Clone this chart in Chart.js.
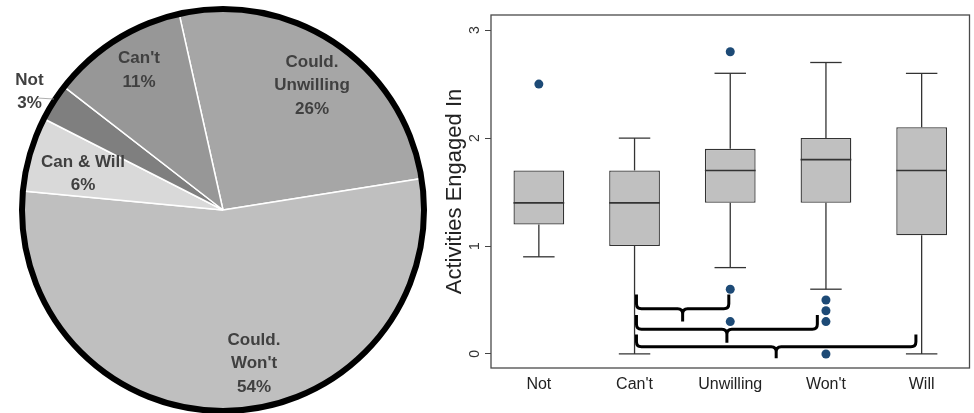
<!DOCTYPE html>
<html><head><meta charset="utf-8">
<script src="https://cdn.jsdelivr.net/npm/chart.js@4.4.1/dist/chart.umd.min.js"></script>
<style>
html,body{margin:0;padding:0;background:#fff;}
body{width:974px;height:413px;position:relative;overflow:hidden;}
#pieWrap{position:absolute;left:0;top:0;width:446px;height:413px;}
#boxWrap{position:absolute;left:436px;top:0;width:538px;height:413px;}
</style></head><body>
<div id="pieWrap"><canvas id="pie"></canvas></div>
<div id="boxWrap"><canvas id="box"></canvas></div>
<script>
// ---- Pie data ----
const pieLabels = ['Could. Unwilling', "Could. Won't", 'Can & Will', 'Not', "Can't"];
const pieValues = [26, 54, 6, 3, 11];
const pieTextLines = [['Could.', 'Unwilling', '26%'], ['Could.', "Won't", '54%'], ['Can & Will', '6%'], ['Not', '3%'], ["Can't", '11%']];

// ---- Box plot data ----
const categories = ['Not', "Can't", 'Unwilling', "Won't", 'Will'];
const whiskerLow = [0.9, 0.0, 0.8, 0.6, 0.0];
const q1 = [1.2, 1.0, 1.4, 1.4, 1.1];
const median = [1.4, 1.4, 1.7, 1.8, 1.7];
const q3 = [1.7, 1.7, 1.9, 2.0, 2.1];
const whiskerHigh = [1.7, 2.0, 2.6, 2.7, 2.6];
const outlierCategory = ['Not', 'Unwilling', 'Unwilling', 'Unwilling', "Won't", "Won't", "Won't", "Won't"];
const outlierValues = [2.5, 2.8, 0.6, 0.3, 0.5, 0.4, 0.3, 0.0];
const yTicks = [0, 1, 2, 3];

// ---- Comparison braces (category index units / axis values) ----
const braceFrom = [1.02, 1.02, 1.02];
const braceTo = [1.985, 2.91, 3.94];
const braceY = [0.42, 0.23, 0.068];
const braceTipY = [0.55, 0.36, 0.18];
const braceDipY = [0.30, 0.105, -0.04];

// ---- Styles / layout ----
const FONT = '"Liberation Sans", Arial, Helvetica, sans-serif';
const pieColors = ['#a6a6a6', '#bfbfbf', '#d9d9d9', '#7f7f7f', '#979797'];
const pieLabelPos = [[89, -148], [31, 130], [-140, -48], [-193.5, -130], [-84, -151.5]];

Chart.defaults.font.family = FONT;

const pieDecor = {
  id: 'pieDecor',
  afterDatasetsDraw(chart) {
    const arc = chart.getDatasetMeta(0).data[0];
    const {x, y, outerRadius} = arc.getProps(['x', 'y', 'outerRadius'], true);
    const ctx = chart.ctx;
    ctx.save();
    ctx.beginPath();
    ctx.arc(x, y, outerRadius, 0, Math.PI * 2);
    ctx.lineWidth = 6;
    ctx.strokeStyle = '#000';
    ctx.stroke();
    ctx.beginPath();
    ctx.moveTo(x - 186, y - 112);
    ctx.lineTo(x - 169, y - 111);
    ctx.lineWidth = 0.8;
    ctx.strokeStyle = '#9a9a9a';
    ctx.stroke();
    ctx.font = 'bold 17px ' + FONT;
    ctx.fillStyle = '#404040';
    ctx.textAlign = 'center';
    ctx.textBaseline = 'middle';
    pieTextLines.forEach((lines, i) => {
      const [dx, dy] = pieLabelPos[i];
      lines.forEach((t, j) => ctx.fillText(t, x + dx, y + dy + j * 23.6));
    });
    ctx.restore();
  }
};

new Chart(document.getElementById('pie'), {
  type: 'pie',
  data: {
    labels: pieLabels,
    datasets: [{data: pieValues, backgroundColor: pieColors, borderColor: '#ffffff', borderWidth: 1.5, clip: false}]
  },
  options: {
    responsive: true, maintainAspectRatio: false, animation: false,
    rotation: -12.6, radius: 201,
    layout: {padding: {top: 7}},
    plugins: {legend: {display: false}, tooltip: {enabled: false}}
  },
  plugins: [pieDecor]
});

const boxDecor = {
  id: 'boxDecor',
  beforeDatasetsDraw(chart) {
    const {ctx, chartArea: a} = chart;
    ctx.save();
    ctx.strokeStyle = '#4a4a4a';
    ctx.lineWidth = 1.3;
    ctx.strokeRect(a.left, a.top, a.right - a.left, a.bottom - a.top);
    ctx.restore();
  },
  afterDatasetsDraw(chart) {
    const xs = chart.scales.x, ys = chart.scales.y, ctx = chart.ctx;
    const bars = chart.getDatasetMeta(1).data;
    ctx.save();
    ctx.strokeStyle = '#333';
    const line = (x1, y1, x2, y2) => { ctx.beginPath(); ctx.moveTo(x1, y1); ctx.lineTo(x2, y2); ctx.stroke(); };
    categories.forEach((c, i) => {
      const cx = xs.getPixelForValue(i);
      const w = bars[i].width;
      const capW = w * 0.62;
      const yl = ys.getPixelForValue(whiskerLow[i]);
      const yq1 = ys.getPixelForValue(q1[i]);
      const ym = ys.getPixelForValue(median[i]);
      const yq3 = ys.getPixelForValue(q3[i]);
      const yh = ys.getPixelForValue(whiskerHigh[i]);
      ctx.lineWidth = 1.6;
      line(cx - w / 2, ym, cx + w / 2, ym);
      ctx.lineWidth = 1.3;
      if (whiskerHigh[i] > q3[i]) { line(cx, yq3, cx, yh); line(cx - capW / 2, yh, cx + capW / 2, yh); }
      if (whiskerLow[i] < q1[i]) { line(cx, yq1, cx, yl); line(cx - capW / 2, yl, cx + capW / 2, yl); }
    });
    ctx.strokeStyle = '#000';
    ctx.lineWidth = 3;
    ctx.lineJoin = 'round';
    ctx.lineCap = 'butt';
    braceFrom.forEach((f, i) => {
      const xl = xs.getPixelForValue(f);
      const xr = xs.getPixelForValue(braceTo[i]);
      const xm = (xl + xr) / 2;
      const yb = ys.getPixelForValue(braceY[i]);
      const yt = ys.getPixelForValue(braceTipY[i]);
      const yd = ys.getPixelForValue(braceDipY[i]);
      const r = 5;
      ctx.beginPath();
      ctx.moveTo(xl, yt);
      ctx.lineTo(xl, yb - r);
      ctx.quadraticCurveTo(xl, yb, xl + r, yb);
      ctx.lineTo(xm - r, yb);
      ctx.quadraticCurveTo(xm, yb, xm, yb + r);
      ctx.lineTo(xm, yd);
      ctx.moveTo(xm, yb + r);
      ctx.quadraticCurveTo(xm, yb, xm + r, yb);
      ctx.lineTo(xr - r, yb);
      ctx.quadraticCurveTo(xr, yb, xr, yb - r);
      ctx.lineTo(xr, yt);
      ctx.stroke();
    });
    ctx.restore();
  }
};

new Chart(document.getElementById('box'), {
  type: 'bar',
  data: {
    labels: categories,
    datasets: [
      {
        type: 'line',
        data: outlierCategory.map((c, i) => ({x: c, y: outlierValues[i]})),
        showLine: false,
        pointRadius: 4.5,
        pointBackgroundColor: '#1d4a76',
        pointBorderColor: '#1d4a76',
        pointBorderWidth: 0
      },
      {
        data: categories.map((c, i) => [q1[i], q3[i]]),
        backgroundColor: '#c0c0c0',
        borderColor: '#333',
        borderWidth: 1.3,
        borderSkipped: false,
        barPercentage: 0.53,
        categoryPercentage: 1.0
      }
    ]
  },
  options: {
    responsive: true, maintainAspectRatio: false, animation: false,
    layout: {padding: {top: 15, right: 2, bottom: 0, left: 0}},
    plugins: {legend: {display: false}, tooltip: {enabled: false}},
    scales: {
      x: {
        offset: true,
        grid: {display: false, drawTicks: false},
        border: {display: false},
        ticks: {padding: 7, font: {size: 16}, color: '#222', maxRotation: 0, minRotation: 0},
        afterFit: s => { s.height = 45; }
      },
      y: {
        min: -0.13, max: 3.14,
        afterBuildTicks: s => { s.ticks = yTicks.map(v => ({value: v})); },
        afterFit: s => { s.width = 55; },
        grid: {display: true, drawOnChartArea: false, drawTicks: true, tickLength: 6, color: '#444', lineWidth: 1},
        border: {display: false},
        ticks: {minRotation: 90, maxRotation: 90, crossAlign: 'center', padding: 6, font: {size: 14}, color: '#333'},
        title: {display: true, text: 'Activities Engaged In', font: {size: 22}, color: '#222', padding: {top: 6, bottom: 0}}
      }
    }
  },
  plugins: [boxDecor]
});
</script>
</body></html>
